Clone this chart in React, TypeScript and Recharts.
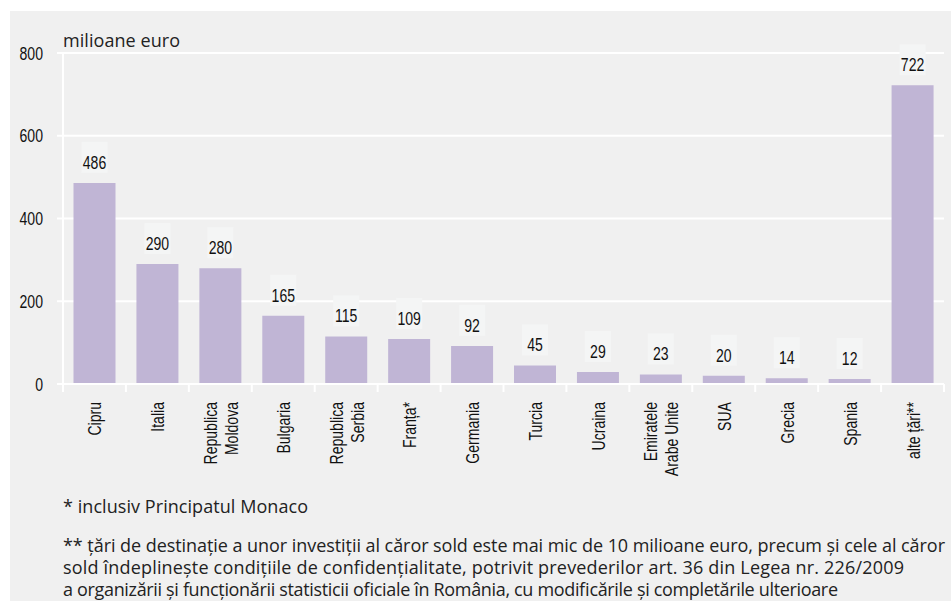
import React from "react";
import { BarChart, Bar, XAxis, YAxis, CartesianGrid, LabelList } from "recharts";

const categories = [
  "Cipru",
  "Italia",
  "Republica\nMoldova",
  "Bulgaria",
  "Republica\nSerbia",
  "Franța*",
  "Germania",
  "Turcia",
  "Ucraina",
  "Emiratele\nArabe Unite",
  "SUA",
  "Grecia",
  "Spania",
  "alte țări**",
];
const values = [486, 290, 280, 165, 115, 109, 92, 45, 29, 23, 20, 14, 12, 722];
const yTicks = [0, 200, 400, 600, 800];
const unitLabel = "milioane euro";
const footnotes = [
  "* inclusiv Principatul Monaco",
  "** țări de destinație a unor investiții al căror sold este mai mic de 10 milioane euro, precum și cele al căror",
  "sold îndeplinește condițiile de confidențialitate, potrivit prevederilor art. 36 din Legea nr. 226/2009",
  "a organizării și funcționării statisticii oficiale în România, cu modificările și completările ulterioare",
];

const data = categories.map((name, i) => ({ name, value: values[i] }));

const W = 951;
const H = 601;
const CHART_H = 490;
const MARGIN = { top: 53, right: 7, bottom: 6, left: 0 };
const Y_W = 63;
const BG = "#f0f0f0";
const BAR = "#c0b5d5";
const INK = "#111";
const NARROW = "'Liberation Sans', Arial, sans-serif";
const SQUEEZE = 0.74;
const SANS = "'Open Sans', 'Noto Sans', sans-serif";

const plotW = W - Y_W - MARGIN.left - MARGIN.right;
const band = plotW / categories.length;

// footnote line widths measured on the reference
const noteWidths = [245, 882, 841, 775];
const noteY = [513, 552, 574, 596];

const XTick = (props: any) => {
  const { x, y, payload, index } = props;
  const lines = String(payload.value).split("\n");
  const lh = 21;
  const top = y + 10;
  const last = index === categories.length - 1;
  return (
    <g>
      <line x1={x - band / 2} x2={x - band / 2} y1={y - 8} y2={y} stroke="#fff" strokeWidth={2} />
      {last && <line x1={x + band / 2} x2={x + band / 2} y1={y - 8} y2={y} stroke="#fff" strokeWidth={2} />}
      <text
        transform={`translate(${x},${top}) rotate(-90) scale(${SQUEEZE},1)`}
        textAnchor="end"
        fontFamily={NARROW}
        fontSize={19}
        fill={INK}
      >
        {lines.map((l, i) => (
          <tspan key={i} x={0} y={(i - (lines.length - 1) / 2) * lh + 7}>
            {l}
          </tspan>
        ))}
      </text>
    </g>
  );
};

const YTick = (props: any) => {
  const { x, y, payload } = props;
  return (
    <text
      transform={`translate(${x},${y + 6.5}) scale(${SQUEEZE},1)`}
      textAnchor="end"
      fontFamily={NARROW}
      fontSize={19}
      fill={INK}
    >
      {payload.value}
    </text>
  );
};

const ValueLabel = (props: any) => {
  const { x, y, width, value } = props;
  const cx = x + width / 2;
  return (
    <g>
      <rect x={cx - 13} y={y - 41} width={26} height={31} fill="#f4f5f5" />
      <text
        transform={`translate(${cx},${y - 14}) scale(${SQUEEZE},1)`}
        textAnchor="middle"
        fontFamily={NARROW}
        fontSize={19}
        fill={INK}
      >
        {value}
      </text>
    </g>
  );
};

export default function App() {
  return (
    <div style={{ position: "absolute", left: 0, top: 0, width: W, height: H, background: "#fff", overflow: "hidden" }}>
      <div style={{ position: "absolute", left: 10, top: 11, width: W - 10, height: H - 11, background: BG }} />
      <div style={{ position: "absolute", left: 0, top: 0 }}>
        <BarChart width={W} height={CHART_H} data={data} margin={MARGIN} barCategoryGap="16.7%">
          <CartesianGrid horizontal vertical={false} stroke="#fff" strokeWidth={2} />
          <XAxis
            dataKey="name"
            interval={0}
            height={CHART_H - MARGIN.top - MARGIN.bottom - 331}
            axisLine={{ stroke: "#fff", strokeWidth: 2 }}
            tickLine={false}
            tick={<XTick />}
          />
          <YAxis
            width={Y_W}
            domain={[0, 800]}
            ticks={yTicks}
            axisLine={{ stroke: "#fff", strokeWidth: 2 }}
            tickLine={{ stroke: "#fff", strokeWidth: 2 }}
            tickSize={6}
            tickMargin={14}
            tick={<YTick />}
          />
          <Bar dataKey="value" fill={BAR} isAnimationActive={false}>
            <LabelList dataKey="value" content={<ValueLabel />} />
          </Bar>
        </BarChart>
      </div>
      <svg width={W} height={H} style={{ position: "absolute", left: 0, top: 0, pointerEvents: "none" }}>
        <text x={63} y={47} fontFamily={SANS} fontSize={18} fill="#222" textLength={117} lengthAdjust="spacing">
          {unitLabel}
        </text>
        {footnotes.map((t, i) => (
          <text
            key={i}
            x={63}
            y={noteY[i]}
            fontFamily={SANS}
            fontSize={18}
            fill="#222"
            textLength={noteWidths[i]}
            lengthAdjust="spacing"
          >
            {t}
          </text>
        ))}
      </svg>
    </div>
  );
}
